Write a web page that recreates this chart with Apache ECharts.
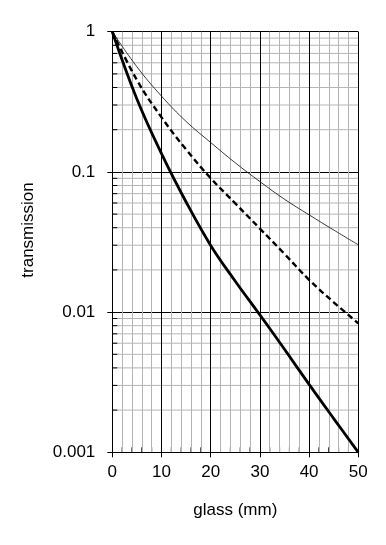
<!DOCTYPE html>
<html>
<head>
<meta charset="utf-8">
<script src="https://cdn.jsdelivr.net/npm/echarts@6/dist/echarts.min.js"></script>
<style>
html,body{margin:0;padding:0;background:#fff;}
#chart{width:386px;height:545px;}
</style>
</head>
<body>
<div id="chart"></div>
<script>
// ---- data ----
const glassMM = [0, 5, 10, 15, 20, 25, 30, 35, 40, 45, 50];
const thinSeries   = [1, 0.562, 0.347, 0.229, 0.162, 0.116, 0.0853, 0.0638, 0.0494, 0.0385, 0.0302];
const dashedSeries = [1, 0.452, 0.245, 0.1445, 0.0902, 0.0596, 0.0394, 0.026, 0.017, 0.01175, 0.00832];
const thickSeries  = [1, 0.331, 0.135, 0.061, 0.0299, 0.0166, 0.00955, 0.00543, 0.00305, 0.00174, 0.001];
const yTickLabels = ['0.001', '0.01', '0.1', '1'];
const xTickLabels = ['0', '10', '20', '30', '40', '50'];
const yMinorTicks = [0.002,0.003,0.004,0.005,0.006,0.007,0.008,0.009,
                     0.02,0.03,0.04,0.05,0.06,0.07,0.08,0.09,
                     0.2,0.3,0.4,0.5,0.6,0.7,0.8,0.9];
const xMinorTicks = [2,4,6,8,12,14,16,18,22,24,26,28,32,34,36,38,42,44,46,48];
const xName = 'glass (mm)';
const yName = 'transmission';

const FONT = '"Liberation Sans", Arial, sans-serif';
const chart = echarts.init(document.getElementById('chart'), null, {renderer: 'canvas'});

function pairs(xs, ys) { return xs.map((x, i) => [x, ys[i]]); }

const minorData = yMinorTicks.map(v => ['h', v]).concat(xMinorTicks.map(v => ['v', v]));

chart.setOption({
  animation: false,
  backgroundColor: '#ffffff',
  grid: {left: 112.3, right: 27.7, top: 31.7, bottom: 92.7},
  xAxis: {
    type: 'value', min: 0, max: 50, interval: 10,
    name: xName, nameLocation: 'middle', nameGap: 50,
    nameTextStyle: {color: '#000', fontSize: 17, fontFamily: FONT},
    axisLine: {show: true, lineStyle: {color: '#000', width: 1}},
    axisTick: {show: true, inside: false, length: 5, lineStyle: {color: '#000', width: 1}},
    axisLabel: {color: '#000', fontSize: 17, fontFamily: FONT, margin: 12,
      formatter: v => xTickLabels[Math.round(v / 10)]},
    splitLine: {show: true, lineStyle: {color: '#000', width: 1}},
    minorTick: {show: false, splitNumber: 5},
    minorSplitLine: {show: true, lineStyle: {color: '#b4b4b4', width: 1}}
  },
  yAxis: {
    type: 'log', logBase: 10, min: 0.001, max: 1,
    name: yName, nameLocation: 'middle', nameGap: 75, nameRotate: 90,
    nameTextStyle: {color: '#000', fontSize: 17, fontFamily: FONT, padding: [0, 0, 0, 24]},
    axisLine: {show: true, lineStyle: {color: '#000', width: 1}},
    axisTick: {show: true, inside: false, length: 5, lineStyle: {color: '#000', width: 1}},
    axisLabel: {color: '#000', fontSize: 17, fontFamily: FONT, margin: 17,
      formatter: v => yTickLabels[Math.round(Math.log10(v)) + 3]},
    splitLine: {show: true, lineStyle: {color: '#000', width: 1}}
  },
  series: [
    {
      type: 'custom', z: -1, silent: true,
      coordinateSystem: 'cartesian2d',
      data: minorData.map((d, i) => [i, d[0] === 'h' ? d[1] : 0.001]),
      renderItem: function (params, api) {
        const d = minorData[params.dataIndex];
        if (d[0] === 'h') {
          const a = api.coord([0, d[1]]);
          const b = api.coord([50, d[1]]);
          return {type: 'group', children: [
            {type: 'line', shape: {x1: a[0], y1: a[1], x2: b[0], y2: b[1]},
              style: {stroke: '#b4b4b4', lineWidth: 1}},
            {type: 'line', shape: {x1: a[0], y1: a[1], x2: a[0] + 5, y2: a[1]},
              style: {stroke: '#000', lineWidth: 1}}
          ]};
        } else {
          const a = api.coord([d[1], 0.001]);
          return {type: 'line', shape: {x1: a[0], y1: a[1], x2: a[0], y2: a[1] - 5},
            style: {stroke: '#000', lineWidth: 1}};
        }
      }
    },
    {
      type: 'line', data: pairs(glassMM, thinSeries), smooth: 0.4,
      showSymbol: false, symbol: 'none',
      lineStyle: {color: '#222', width: 0.9}
    },
    {
      type: 'line', data: pairs(glassMM, dashedSeries), smooth: 0.4,
      showSymbol: false, symbol: 'none',
      lineStyle: {color: '#000', width: 2.4, type: [6, 3.5]}
    },
    {
      type: 'line', data: pairs(glassMM, thickSeries), smooth: 0.4,
      showSymbol: false, symbol: 'none',
      lineStyle: {color: '#000', width: 2.8}
    }
  ]
});
</script>
</body>
</html>
